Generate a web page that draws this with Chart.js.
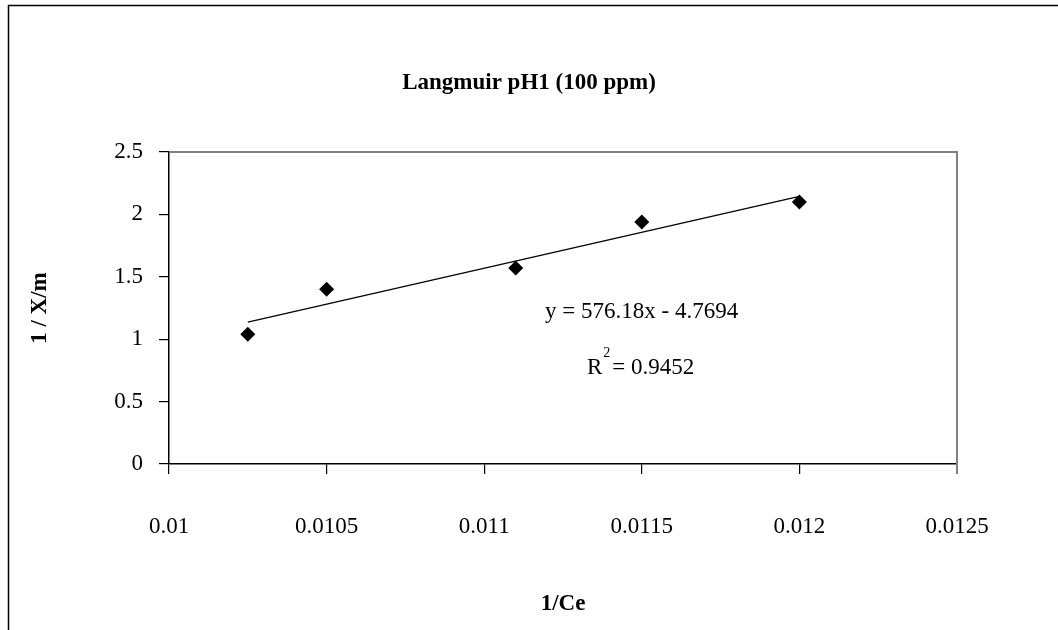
<!DOCTYPE html>
<html>
<head>
<meta charset="utf-8">
<script src="https://cdn.jsdelivr.net/npm/chart.js@4/dist/chart.umd.min.js"></script>
<style>
  html, body { margin: 0; padding: 0; background: #ffffff; }
  #wrap { width: 1058px; height: 630px; position: relative; }
</style>
</head>
<body>
<div id="wrap"><canvas id="c" width="1058" height="630"></canvas></div>
<script>
// Langmuir linearisation: 1/Ce against 1/(X/m)
const invCe = [0.01025, 0.0105, 0.0111, 0.0115, 0.012];
const invXm = [1.04, 1.40, 1.57, 1.94, 2.10];

// Linear trendline reported for the series
const trendSlope = 576.18;
const trendIntercept = -4.7694;
const trendR2 = 0.9452;

const xTickLabels = ['0.01', '0.0105', '0.011', '0.0115', '0.012', '0.0125'];
const yTickLabels = ['0', '0.5', '1', '1.5', '2', '2.5'];

const FONT = '"Liberation Serif", "Times New Roman", serif';
const TEXT_SIZE = 23;

const points = invCe.map((x, i) => ({ x: x, y: invXm[i] }));
const xMin = Math.min(...invCe), xMax = Math.max(...invCe);
const trendPoints = [xMin, xMax].map(x => ({ x: x, y: trendSlope * x + trendIntercept }));

const equationText = 'y = ' + trendSlope.toFixed(2) + 'x - ' + Math.abs(trendIntercept).toFixed(4);
const r2Text = '= ' + trendR2.toFixed(4);

// Page frame, grey plot outline and the trendline annotation
const decorations = {
  id: 'decorations',
  beforeDatasetsDraw(chart) {
    const { ctx, chartArea: a } = chart;
    ctx.save();
    ctx.strokeStyle = '#808080';
    ctx.lineWidth = 2;
    ctx.beginPath();
    ctx.moveTo(a.left, a.top);
    ctx.lineTo(a.right, a.top);
    ctx.lineTo(a.right, a.bottom + 10);
    ctx.stroke();
    ctx.restore();
  },
  afterDraw(chart) {
    const { ctx } = chart;
    ctx.save();
    ctx.strokeStyle = '#000000';
    ctx.lineWidth = 1.5;
    ctx.beginPath();
    ctx.moveTo(8.5, 630);
    ctx.lineTo(8.5, 5.5);
    ctx.lineTo(1058, 5.5);
    ctx.stroke();

    ctx.fillStyle = '#000000';
    ctx.textBaseline = 'middle';
    ctx.textAlign = 'left';
    ctx.font = TEXT_SIZE + 'px ' + FONT;
    ctx.fillText(equationText, 545, 312);
    ctx.fillText('R', 587, 368);
    const rw = ctx.measureText('R').width;
    ctx.font = '14px ' + FONT;
    ctx.fillText('2', 587 + rw + 1, 353);
    ctx.font = TEXT_SIZE + 'px ' + FONT;
    ctx.fillText(r2Text, 587 + rw + 10, 368);
    ctx.restore();
  }
};

const axisGrid = {
  drawOnChartArea: false,
  drawTicks: true,
  tickLength: 10,
  color: '#000000',
  lineWidth: 1.2
};

new Chart(document.getElementById('c'), {
  type: 'scatter',
  data: {
    datasets: [
      {
        label: 'Langmuir pH1',
        data: points,
        pointStyle: 'rectRot',
        pointRadius: 7.5,
        pointHoverRadius: 7.5,
        backgroundColor: '#000000',
        borderColor: '#000000',
        borderWidth: 0,
        showLine: false
      },
      {
        label: 'Linear fit',
        data: trendPoints,
        showLine: true,
        borderColor: '#000000',
        borderWidth: 1.2,
        pointRadius: 0,
        fill: false
      }
    ]
  },
  options: {
    responsive: false,
    animation: false,
    events: [],
    layout: { padding: 0 },
    plugins: {
      legend: { display: false },
      tooltip: { enabled: false },
      title: {
        display: true,
        text: 'Langmuir pH1 (100 ppm)',
        color: '#000000',
        font: { family: FONT, size: TEXT_SIZE, weight: 'bold', lineHeight: 1.2 },
        padding: { top: 69, bottom: 55.4 }
      }
    },
    scales: {
      x: {
        type: 'linear',
        min: 0.01,
        max: 0.0125,
        afterFit(scale) { scale.height = 166; },
        afterBuildTicks(scale) {
          scale.ticks = xTickLabels.map(t => ({ value: parseFloat(t) }));
        },
        ticks: {
          color: '#000000',
          padding: 39,
          maxRotation: 0,
          autoSkip: false,
          font: { family: FONT, size: TEXT_SIZE },
          callback: (v, i) => xTickLabels[i]
        },
        grid: axisGrid,
        border: { display: true, color: '#000000', width: 1.5 },
        title: {
          display: true,
          text: '1/Ce',
          color: '#000000',
          font: { family: FONT, size: TEXT_SIZE, weight: 'bold', lineHeight: 1.2 },
          padding: { top: 0, bottom: 12 }
        }
      },
      y: {
        type: 'linear',
        min: 0,
        max: 2.5,
        afterFit(scale) { scale.width = 169; },
        afterBuildTicks(scale) {
          scale.ticks = yTickLabels.map(t => ({ value: parseFloat(t) }));
        },
        ticks: {
          color: '#000000',
          padding: 16,
          autoSkip: false,
          font: { family: FONT, size: TEXT_SIZE },
          callback: (v, i) => yTickLabels[i]
        },
        grid: axisGrid,
        border: { display: true, color: '#000000', width: 1.5 },
        title: {
          display: true,
          text: '1 / X/m',
          color: '#000000',
          font: { family: FONT, size: TEXT_SIZE, weight: 'bold', lineHeight: 1.2 },
          padding: { top: 26, bottom: 0 }
        }
      },
      // empty margin on the right of the plot
      yRight: {
        type: 'linear',
        position: 'right',
        display: true,
        afterFit(scale) { scale.width = 101; },
        ticks: { display: false },
        grid: { display: false, drawTicks: false },
        border: { display: false }
      }
    }
  },
  plugins: [decorations]
});
</script>
</body>
</html>
